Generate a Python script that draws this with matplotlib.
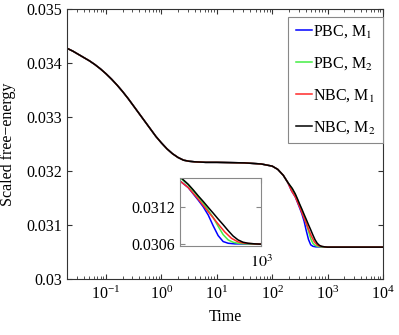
import numpy as np
import matplotlib
matplotlib.use('Agg')
from matplotlib import pyplot as plt
from matplotlib.ticker import FixedLocator, FixedFormatter, LogLocator, NullFormatter

plt.rcParams['font.family'] = ['Liberation Serif', 'DejaVu Serif']
plt.rcParams['mathtext.fontset'] = 'stix'
plt.rcParams['font.size'] = 11.5

# early part of the curve, shared by all four runs (log10 of time, value)
early_logt = [-1.70, -1.60, -1.50, -1.40, -1.30, -1.20, -1.10, -1.00, -0.90, -0.80,
              -0.70, -0.60, -0.50, -0.40, -0.30, -0.20, -0.10, 0.00, 0.10, 0.20,
              0.30, 0.40, 0.50, 0.60, 0.80, 1.00, 1.50, 1.80, 1.90, 2.00, 2.10,
              2.20, 2.28]
early_val = [0.03427, 0.03422, 0.03416, 0.03410, 0.03404, 0.03397, 0.03389, 0.03380,
             0.03370, 0.03359, 0.03347, 0.03334, 0.03320, 0.03306, 0.03292, 0.03278,
             0.03264, 0.03252, 0.03241, 0.03232, 0.03225, 0.03220, 0.03218, 0.03217,
             0.03216, 0.03216, 0.03215, 0.03213, 0.03211, 0.03209, 0.03203, 0.03192,
             0.03179]

# the second drop, one list per run
pbc1_logt = [2.350, 2.416, 2.496, 2.536, 2.576, 2.615, 2.655, 2.695, 2.735, 2.788]
pbc1_val = [0.031631, 0.031522, 0.031315, 0.031205, 0.031069, 0.030894, 0.030731,
            0.030633, 0.030605, 0.030595]
pbc2_logt = [2.363, 2.416, 2.496, 2.536, 2.576, 2.615, 2.655, 2.695, 2.735, 2.774,
             2.814, 2.867]
pbc2_val = [0.031664, 0.031565, 0.031369, 0.031265, 0.031151, 0.031031, 0.030884,
            0.030747, 0.030660, 0.030622, 0.030605, 0.030595]
nbc1_logt = [2.350, 2.416, 2.496, 2.576, 2.655, 2.708, 2.761, 2.814, 2.867, 2.947]
nbc1_val = [0.031631, 0.031522, 0.031331, 0.031124, 0.030922, 0.030791, 0.030687,
            0.030627, 0.030605, 0.030595]
nbc2_logt = [2.363, 2.416, 2.456, 2.496, 2.536, 2.576, 2.615, 2.655, 2.695, 2.735,
             2.774, 2.814, 2.854, 2.894, 2.947]
nbc2_val = [0.031675, 0.031576, 0.031484, 0.031385, 0.031293, 0.031195, 0.031102,
            0.031004, 0.030911, 0.030813, 0.030725, 0.030660, 0.030622, 0.030605,
            0.030595]

# flat tail
tail_logt = [3.0, 3.5, 4.0]
tail_val = [0.03059, 0.03059, 0.03059]

labels = ['PBC, M$_1$', 'PBC, M$_2$', 'NBC, M$_1$', 'NBC, M$_2$']
colors = ['#0000ff', '#44ee44', '#ff2a2a', '#000000']

y_ticks = [0.03, 0.031, 0.032, 0.033, 0.034, 0.035]
y_ticklabels = ['0.03', '0.031', '0.032', '0.033', '0.034', '0.035']
inset_yticks = [0.0306, 0.0312]
inset_yticklabels = ['0.0306', '0.0312']


def series(drop_logt, drop_val):
    t = 10 ** np.array(early_logt + drop_logt + tail_logt)
    v = np.array(early_val + drop_val + tail_val)
    return t, v


def style_axes(ax, color):
    for s in ax.spines.values():
        s.set_color(color)
        s.set_linewidth(0.8)
    ax.tick_params(which='both', direction='in', top=True, right=True,
                   colors=color, labelcolor='black')
    ax.tick_params(which='major', length=3.5)
    ax.tick_params(which='minor', length=2)


def main():
    runs = [series(pbc1_logt, pbc1_val), series(pbc2_logt, pbc2_val),
            series(nbc1_logt, nbc1_val), series(nbc2_logt, nbc2_val)]

    fig = plt.figure(figsize=(3.99, 3.35), dpi=100)
    ax = fig.add_axes([0.1687, 0.1672, 0.7912, 0.806])
    for (t, v), c, lab in zip(runs, colors, labels):
        ax.plot(t, v, color=c, lw=1.1, label=lab)
    ax.set_xscale('log')
    ax.set_xlim(0.02, 1e4)
    ax.set_ylim(0.03, 0.035)
    ax.xaxis.set_major_locator(LogLocator(base=10, numticks=10))
    ax.xaxis.set_minor_locator(LogLocator(base=10, subs=np.arange(2, 10), numticks=20))
    ax.xaxis.set_minor_formatter(NullFormatter())
    ax.yaxis.set_major_locator(FixedLocator(y_ticks))
    ax.yaxis.set_major_formatter(FixedFormatter(y_ticklabels))
    style_axes(ax, '#333333')
    ax.tick_params(axis='x', pad=5)
    ax.set_xlabel('Time', labelpad=4)
    ax.set_ylabel('Scaled free\u2212energy', labelpad=8)

    leg = ax.legend(loc='upper right', bbox_to_anchor=(1.0, 0.972), fancybox=False,
                    framealpha=1, edgecolor='#888888', handlelength=1.0,
                    handletextpad=0.1, labelspacing=0.95, borderpad=0.45,
                    borderaxespad=0.0)
    leg.get_frame().set_linewidth(0.8)

    ins = fig.add_axes([0.451, 0.2648, 0.204, 0.204])
    for (t, v), c in zip(runs, colors):
        ins.plot(t, v, color=c, lw=1.1)
    ins.set_xscale('log')
    ins.set_xlim(10 ** 2.35, 1000)
    ins.set_ylim(0.030555, 0.03168)
    ins.xaxis.set_major_locator(FixedLocator([1000]))
    ins.xaxis.set_major_formatter(FixedFormatter(['$10^3$']))
    ins.xaxis.set_minor_locator(FixedLocator([]))
    ins.yaxis.set_major_locator(FixedLocator(inset_yticks))
    ins.yaxis.set_major_formatter(FixedFormatter(inset_yticklabels))
    style_axes(ins, '#888888')
    ins.tick_params(axis='x', pad=6)

    fig.savefig('out.png', dpi=100)


if __name__ == "__main__":
    main()
